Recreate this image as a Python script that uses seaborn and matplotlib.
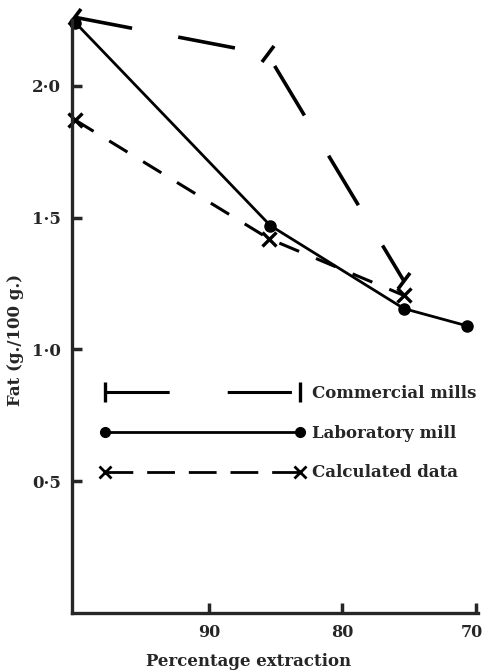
import matplotlib
matplotlib.use("Agg")
import matplotlib.pyplot as plt
import seaborn as sns
import pandas as pd
from matplotlib.lines import Line2D
from matplotlib.markers import MarkerStyle
from matplotlib.transforms import Affine2D, ScaledTranslation

# ---- data ----
series_names = ["Commercial mills", "Laboratory mill", "Calculated data"]
extraction_comm = [100.0, 85.6, 75.4]
fat_comm = [2.26, 2.12, 1.26]
extraction_lab = [100.0, 85.4, 75.4, 70.7]
fat_lab = [2.24, 1.47, 1.155, 1.09]
extraction_calc = [100.0, 85.5, 75.4]
fat_calc = [1.87, 1.42, 1.205]
x_ticks = [90, 80, 70]
x_tick_labels = ["90", "80", "70"]
y_ticks = [0.5, 1.0, 1.5, 2.0]
y_tick_labels = ["0·5", "1·0", "1·5", "2·0"]

sns.set_style("ticks")
plt.rcParams["font.family"] = ["DejaVu Serif"]

fig = plt.figure(figsize=(4.85, 6.72), dpi=100)
W, H = 485, 672
ax = fig.add_axes([72 / W, (H - 613) / H, (478 - 72) / W, (613 - 20) / H])

tick_marker = MarkerStyle("|", transform=Affine2D().rotate_deg(-38))

df_comm = pd.DataFrame({"x": extraction_comm, "y": fat_comm})
df_lab = pd.DataFrame({"x": extraction_lab, "y": fat_lab})
df_calc = pd.DataFrame({"x": extraction_calc, "y": fat_calc})

sns.lineplot(data=df_comm, x="x", y="y", ax=ax, color="black", linewidth=2.6,
             marker=tick_marker, markersize=14, markeredgewidth=2.6,
             markeredgecolor="black", dashes=False, sort=False,
             linestyle=(0, (16, 13)), clip_on=False)
sns.lineplot(data=df_lab, x="x", y="y", ax=ax, color="black", linewidth=2.0,
             marker="o", markersize=8, markeredgewidth=1, markeredgecolor="black",
             sort=False, clip_on=False)
sns.lineplot(data=df_calc, x="x", y="y", ax=ax, color="black", linewidth=2.2,
             marker="x", markersize=10, markeredgewidth=2.4, markeredgecolor="black",
             sort=False, linestyle=(0, (7, 6)), clip_on=False)

ax.set_xlim(100.25, 69.85)
ax.set_ylim(0, 2.25)
ax.set_xticks(x_ticks)
ax.set_xticklabels(x_tick_labels)
ax.set_yticks(y_ticks)
ax.set_yticklabels(y_tick_labels)
ax.tick_params(direction="in", length=7, width=2.5, labelsize=12, pad=8)
ax.tick_params(axis="x", labelsize=11.5)
for lab in ax.get_xticklabels() + ax.get_yticklabels():
    lab.set_fontweight("bold")
last = ax.get_xticklabels()[-1]
last.set_transform(last.get_transform() + ScaledTranslation(-4 / 100, 0, fig.dpi_scale_trans))
for s in ["top", "right"]:
    ax.spines[s].set_visible(False)
for s in ["left", "bottom"]:
    ax.spines[s].set_linewidth(2.4)

ax.set_xlabel("Percentage extraction", fontsize=12, fontweight="bold", labelpad=8)
ax.xaxis.set_label_coords((249 - 72) / 406, -0.068)
ax.set_ylabel("Fat (g./100 g.)", fontsize=12, fontweight="bold", labelpad=6)
ax.yaxis.set_label_coords(-0.118, (613 - 340) / 593)

handles = [
    Line2D([], [], color="black", linewidth=2.2, linestyle=(0, (21, 19)),
           marker="|", markersize=14, markeredgewidth=2.4),
    Line2D([], [], color="black", linewidth=2.0, marker="o", markersize=7),
    Line2D([], [], color="black", linewidth=2.0, linestyle=(0, (10, 5)),
           marker="x", markersize=9, markeredgewidth=2),
]
leg = ax.legend(handles, series_names, loc="upper left",
                bbox_to_anchor=((100 - 72) / 406, (613 - 385) / 593),
                frameon=False, handlelength=12.3, handletextpad=0.4,
                labelspacing=1.36, borderpad=0, borderaxespad=0, numpoints=2,
                prop={"family": "DejaVu Serif", "weight": "bold", "size": 12})

fig.savefig("out.png", dpi=100)
